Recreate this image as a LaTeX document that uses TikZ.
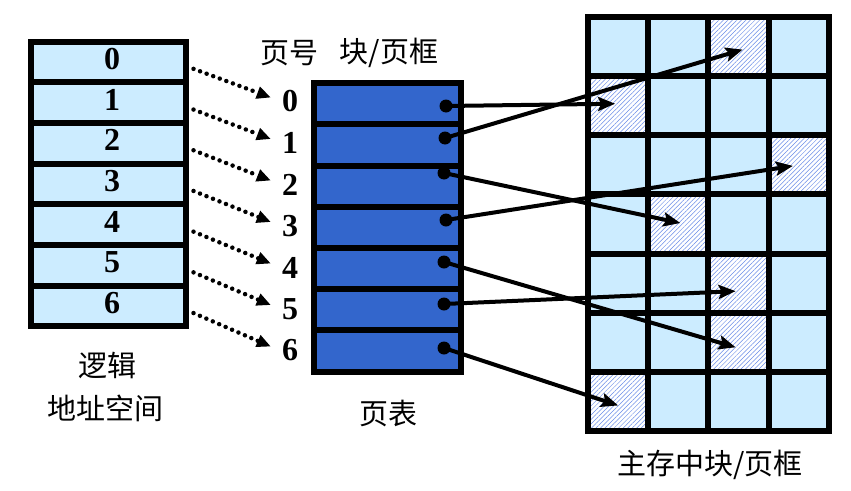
\documentclass[tikz,border=0pt]{standalone}
\usepackage{fontspec}
\setmainfont{Liberation Serif}
\newfontfamily\cjk{Noto Sans CJK SC}
\usetikzlibrary{arrows.meta,patterns.meta}
\definecolor{cellblue}{HTML}{CCECFF}
\definecolor{ptab}{HTML}{3366CC}
\definecolor{hatchc}{HTML}{6A8CE8}
\begin{document}
\begin{tikzpicture}[x=1pt,y=-1pt,
  num/.style={font=\fontsize{32}{32}\selectfont\bfseries, inner sep=0pt},
  cn/.style={font=\cjk\fontsize{29}{29}\selectfont, inner sep=0pt},
  lrow/.style={draw, line width=6pt, fill=cellblue, minimum width=155pt, minimum height=40.7pt, inner sep=0pt},
  prow/.style={draw, line width=6pt, fill=ptab, minimum width=147pt, minimum height=41.2pt, inner sep=0pt},
  cellbox/.style={draw, line width=6pt, fill=cellblue, minimum width=60.25pt, minimum height=59.14pt, inner sep=0pt},
  hatchbox/.style={draw, line width=6pt, minimum width=60.25pt, minimum height=59.14pt, inner sep=0pt,
     preaction={fill=white}, pattern={Lines[angle=45,distance=3.2pt,line width=0.5pt]}, pattern color=hatchc},
  dotnode/.style={circle, fill=black, minimum size=13pt, inner sep=0pt},
  maparrow/.style={line width=4pt, -{Stealth[length=17pt,width=14pt,inset=3pt]}},
  dotarrow/.style={line width=4.5pt, line cap=round, dash pattern=on 0pt off 7pt, -{Triangle[length=14pt,width=12pt]}}
]
\useasboundingbox (0,0) rectangle (851,490);

% logical address space
\foreach \i in {0,...,6}
  \node[lrow] (L\i) at (108,{61.85+40.7*\i}) {};
\foreach \i in {0,...,6}
  \node[num] (LN\i) at (112,{59+40.7*\i}) {\i};

% page table
\foreach \i in {0,...,6}
  \node[prow] (P\i) at (387,{103.8+41.2*\i}) {};
\foreach \i in {0,...,6}
  \node[num] (N\i) at (290,{101.5+41.5*\i}) {\i};

% headers and labels
\node[cn] (H1) at (289,53) {页号};
\node[cn] (H2) at (389,53) {块/页框};
\node[cn] (T1) at (107,365) {逻辑};
\node[cn] (T2) at (105,408) {地址空间};
\node[cn] (T3) at (388,414) {页表};
\node[cn] (T4) at (710,465) {主存中块/页框};

% main memory grid
\foreach \r in {0,...,6}
  \foreach \c in {0,...,3}
    \node[cellbox] (C\r\c) at ({618.1+60.25*\c},{46.6+59.14*\r}) {};
\foreach \r/\c/\n in {1/0/0, 0/2/1, 3/1/2, 2/3/3, 5/2/4, 4/2/5, 6/0/6}
  \node[hatchbox] (F\n) at (C\r\c) {};

% dotted arrows
\foreach \i in {0,...,6}
  \draw[dotarrow] ([xshift=5pt,yshift=-7pt]L\i.east) -- ([xshift=-11pt,yshift=4pt]N\i.west);

% dots
\node[dotnode] (D0) at (446,106) {};
\node[dotnode] (D1) at (445,138) {};
\node[dotnode] (D2) at (444,173) {};
\node[dotnode] (D3) at (446,220) {};
\node[dotnode] (D4) at (444,262) {};
\node[dotnode] (D5) at (444,304) {};
\node[dotnode] (D6) at (444,348) {};

% mapping arrows
\draw[maparrow] (D0.center) -- ([xshift=-3pt,yshift=2pt]F0.center);
\draw[maparrow] (D1.center) -- ([xshift=4pt,yshift=-3pt]F1.center);
\draw[maparrow] (D2.center) -- ([xshift=2pt,yshift=1pt]F2.center);
\draw[maparrow] (D3.center) -- ([xshift=-6pt,yshift=-1pt]F3.center);
\draw[maparrow] (D4.center) -- ([xshift=-3pt,yshift=-5pt]F4.center);
\draw[maparrow] (D5.center) -- ([xshift=-3pt,yshift=-8pt]F5.center);
\draw[maparrow] (D6.center) -- ([xshift=0pt,yshift=-4pt]F6.center);
\end{tikzpicture}
\end{document}
